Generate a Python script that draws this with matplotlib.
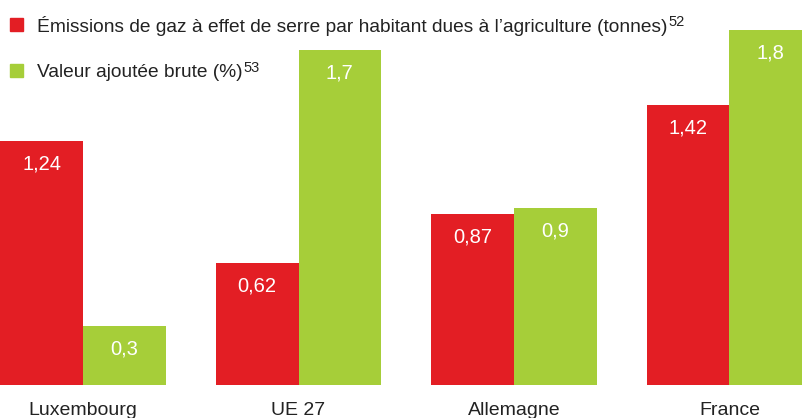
import matplotlib.pyplot as plt
import numpy as np
from matplotlib.patches import Rectangle

plt.rcParams['font.family'] = ['Liberation Sans', 'DejaVu Sans']

countries = ["Luxembourg", "UE 27", "Allemagne", "France"]
emissions = [1.24, 0.62, 0.87, 1.42]
valeur_ajoutee = [0.3, 1.7, 0.9, 1.8]
series_labels = [
    ("Émissions de gaz à effet de serre par habitant dues à l’agriculture (tonnes)", "52"),
    ("Valeur ajoutée brute (%)", "53"),
]

RED = "#e31e24"
GREEN = "#a6ce39"
TXT = "#222222"
W, H = 803, 418

fig = plt.figure(figsize=(W / 100, H / 100), dpi=100)
ax = fig.add_axes([0, 33 / H, 1, 385 / H])

x = np.arange(len(countries))
bw = 0.383
bars_red = ax.bar(x - bw / 2, emissions, bw, color=RED)
bars_green = ax.bar(x + bw / 2, valeur_ajoutee, bw, color=GREEN)

ax.set_xlim(-83 / 215.5, (W - 83) / 215.5)
ax.set_ylim(0, 385 / 197)
ax.axis("off")


def fmt(v):
    return f"{v:g}".replace(".", ",")


for bars, vals in ((bars_red, emissions), (bars_green, valeur_ajoutee)):
    for b, v in zip(bars, vals):
        ax.annotate(fmt(v), (b.get_x() + b.get_width() / 2, v),
                    xytext=(0, -23), textcoords="offset pixels",
                    ha="center", va="center", color="white", fontsize=14.5)

for xi, name in zip(x, countries):
    ax.annotate(name, (xi, 0), xytext=(0, -30), textcoords="offset pixels",
                ha="center", va="baseline", color=TXT, fontsize=14)

# legend
fig.canvas.draw()
renderer = fig.canvas.get_renderer()
for yc, (label, sup), col in zip((24.5, 70), series_labels, (RED, GREEN)):
    base = H - (yc + 7)
    fig.patches.append(Rectangle((10 / W, (H - yc - 6.5) / H), 13 / W, 13 / H,
                                 color=col, transform=fig.transFigure))
    t = fig.text(37 / W, base / H, label, fontsize=13.8, color=TXT,
                 va="baseline", ha="left")
    bb = t.get_window_extent(renderer)
    fig.text((bb.x1 + 1) / W, (base + 5) / H, sup, fontsize=10.5,
             color=TXT, va="baseline", ha="left")

fig.savefig("out.png", dpi=100)
